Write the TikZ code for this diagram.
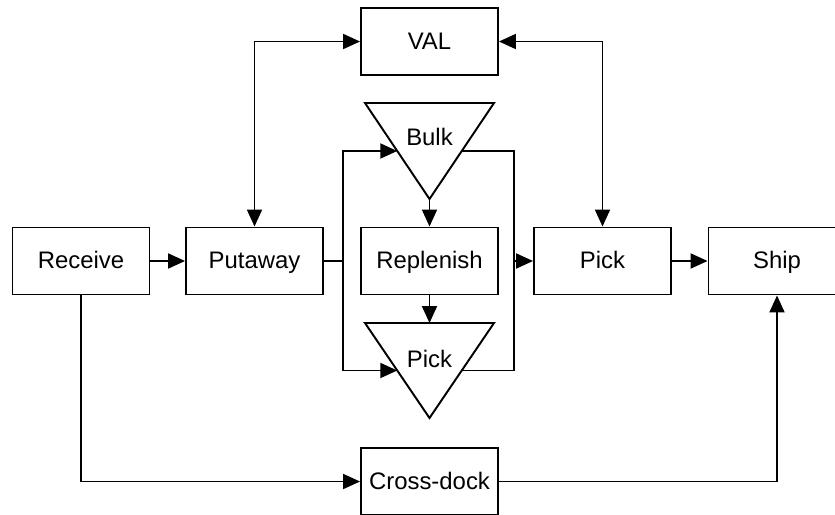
\documentclass[tikz,border=0pt]{standalone}
\usepackage{fontspec}
\setmainfont{Liberation Sans}
\usetikzlibrary{arrows.meta,calc}
\tikzset{
    stage/.style={draw, line width=1.1pt, minimum width=2.74cm, minimum height=1.34cm, inner sep=0pt, text height=2.1ex, text depth=0.4ex, font=\fontsize{13.6}{15}\selectfont},
    label/.style={inner sep=0pt, text height=2.1ex, text depth=0.4ex, font=\fontsize{13.6}{15}\selectfont},
    flow/.style={line width=1.1pt, -{Triangle[length=0.34cm,width=0.3cm]}},
    both/.style={line width=1.1pt, {Triangle[length=0.34cm,width=0.3cm]}-{Triangle[length=0.34cm,width=0.3cm]}},
}
\begin{document}
\begin{tikzpicture}[x=0.02cm,y=-0.02cm]
            \useasboundingbox (0,0) rectangle (835,514);

            \node[stage] (receive) at (81,261) {Receive};
            \node[stage] (putaway) at (254.5,261) {Putaway};
            \node[stage] (replenish) at (429.5,261) {Replenish};
            \node[stage] (pick) at (602.5,261) {Pick};
            \node[stage] (ship) at (777,261) {Ship};
            \node[stage] (val) at (429.5,41.5) {VAL};
            \node[stage] (crossdock) at (429.5,481.5) {Cross-dock};

            \coordinate (bulkL) at (365,103);
            \coordinate (bulkR) at (494,103);
            \coordinate (bulkT) at (429.5,199);

            \coordinate (pickL) at (365,323);
            \coordinate (pickR) at (494,323);
            \coordinate (pickT) at (429.5,418);

            \draw[line width=1.1pt] (bulkL) -- (bulkR) -- (bulkT) -- cycle;
            \draw[line width=1.1pt] (pickL) -- (pickR) -- (pickT) -- cycle;
            \node[label] (bulk) at (429.5,138) {Bulk};
            \node[label] (pickstore) at (429.5,360) {Pick};

            \coordinate (bulkin) at ($(bulkL)!0.5!(bulkT)$);
            \coordinate (bulkout) at ($(bulkR)!0.5!(bulkT)$);
            \coordinate (pickin) at ($(pickL)!0.5!(pickT)$);
            \coordinate (pickout) at ($(pickR)!0.5!(pickT)$);
            \coordinate (picktop) at ($(pickL)!0.5!(pickR)$);

            \coordinate (split) at (343,261);
            \coordinate (join) at (514,261);

            \draw[flow] (receive) -- (putaway);
            \draw[flow] (pick) -- (ship);

            \draw[both] (putaway.north) |- (val.west);
            \draw[both] (pick.north) |- (val.east);

            \draw[flow] (bulkT) -- (replenish.north);
            \draw[flow] (replenish.south) -- (picktop);

            \draw[line width=1.1pt] (putaway.east) -- (split);
            \draw[flow] (split) |- (bulkin);
            \draw[flow] (split) |- (pickin);
            \draw[line width=1.1pt] (bulkout) -| (join);
            \draw[line width=1.1pt] (pickout) -| (join);
            \draw[flow] (join) -- (pick.west);

            \draw[flow] (receive.south) |- (crossdock.west);
            \draw[flow] (crossdock.east) -| (ship.south);
\end{tikzpicture}
\end{document}
